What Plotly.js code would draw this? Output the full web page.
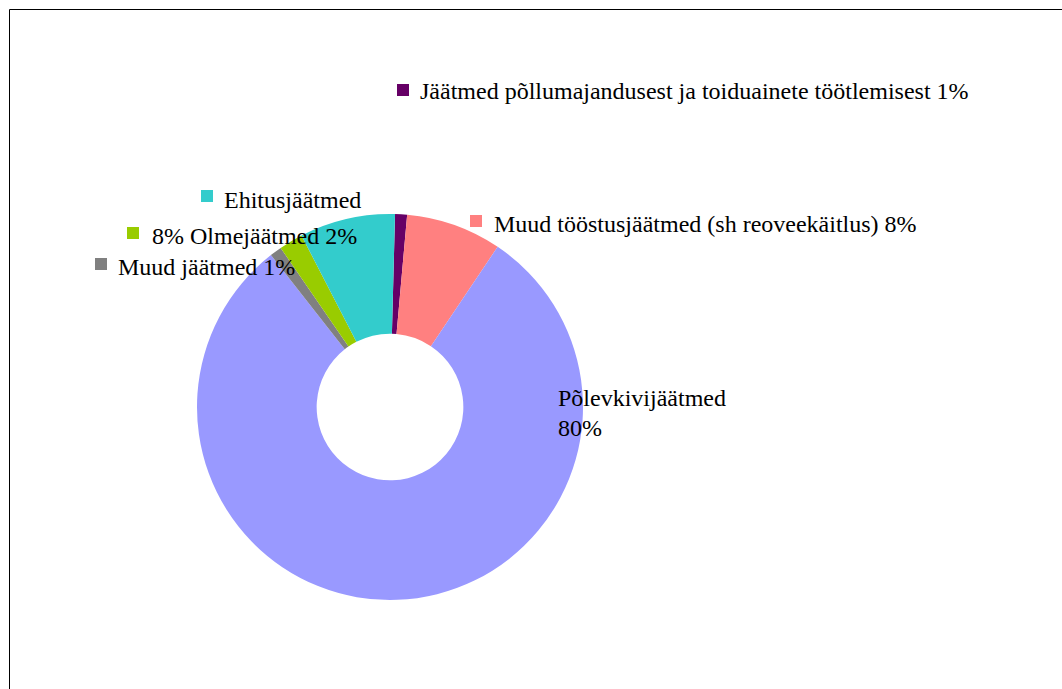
<!DOCTYPE html>
<html>
<head>
<meta charset="utf-8">
<script src="https://cdn.plot.ly/plotly-3.0.1.min.js"></script>
<style>html,body{margin:0;padding:0;background:#fff;}#chart{width:1062px;height:689px;}</style>
</head>
<body>
<div id="chart"></div>
<script>
// Data (clockwise from 12 o'clock)
const categories = [
  "Jäätmed põllumajandusest ja toiduainete töötlemisest",
  "Muud tööstusjäätmed (sh reoveekäitlus)",
  "Põlevkivijäätmed",
  "Muud jäätmed",
  "Olmejäätmed",
  "Ehitusjäätmed"
];
const shares = [1, 8, 80, 1, 2, 8];
const colors = ["#660066", "#FF8080", "#9999FF", "#808080", "#99CC00", "#33CCCC"];

const W = 1062, H = 689;
const px = x => x / W;
const py = y => 1 - y / H;

const trace = {
  type: "pie",
  labels: categories,
  values: shares,
  sort: false,
  direction: "clockwise",
  rotation: 1.5,
  hole: 0.38,
  textinfo: "none",
  marker: { colors: colors, line: { width: 0 } },
  domain: { x: [px(197), px(583)], y: [py(600), py(214)] },
  showlegend: false,
  hoverinfo: "label+percent"
};

// label placements (text left x, center y) and marker square
const labelPos = [
  { sq: [397, 84], tx: 418, ty: 91, text: categories[0] + " " + shares[0] + "%" },
  { sq: [470, 215], tx: 492, ty: 224, text: categories[1] + " " + shares[1] + "%" },
  { sq: null, tx: 556, ty: 398, text: categories[2] },
  { sq: null, tx: 556, ty: 428, text: shares[2] + "%" },
  { sq: [95, 258], tx: 116, ty: 267, text: categories[3] + " " + shares[3] + "%" },
  { sq: [127, 227], tx: 150, ty: 236, text: shares[5] + "% " + categories[4] + " " + shares[4] + "%" },
  { sq: [201, 190], tx: 222, ty: 200, text: categories[5] }
];
const sqColor = [colors[0], colors[1], null, null, colors[3], colors[4], colors[5]];

const annotations = labelPos.map(l => ({
  xref: "paper", yref: "paper",
  x: px(l.tx), y: py(l.ty),
  xanchor: "left", yanchor: "middle",
  text: l.text, showarrow: false,
  font: { family: "Liberation Serif, Times New Roman, serif", size: 24, color: "#000" }
}));

const shapes = [{
  type: "rect", xref: "paper", yref: "paper",
  x0: px(9.5), x1: px(1070), y0: py(9.5), y1: py(700),
  line: { color: "#000", width: 1 }, fillcolor: "rgba(0,0,0,0)", layer: "below"
}];
labelPos.forEach((l, i) => {
  if (!l.sq) return;
  shapes.push({
    type: "rect", xref: "paper", yref: "paper",
    x0: px(l.sq[0]), x1: px(l.sq[0] + 12), y0: py(l.sq[1]), y1: py(l.sq[1] + 12),
    line: { width: 0 }, fillcolor: sqColor[i]
  });
});

const layout = {
  width: W, height: H,
  margin: { l: 0, r: 0, t: 0, b: 0 },
  paper_bgcolor: "#fff",
  annotations: annotations,
  shapes: shapes
};

Plotly.newPlot("chart", [trace], layout, { displayModeBar: false, staticPlot: true });
</script>
</body>
</html>
